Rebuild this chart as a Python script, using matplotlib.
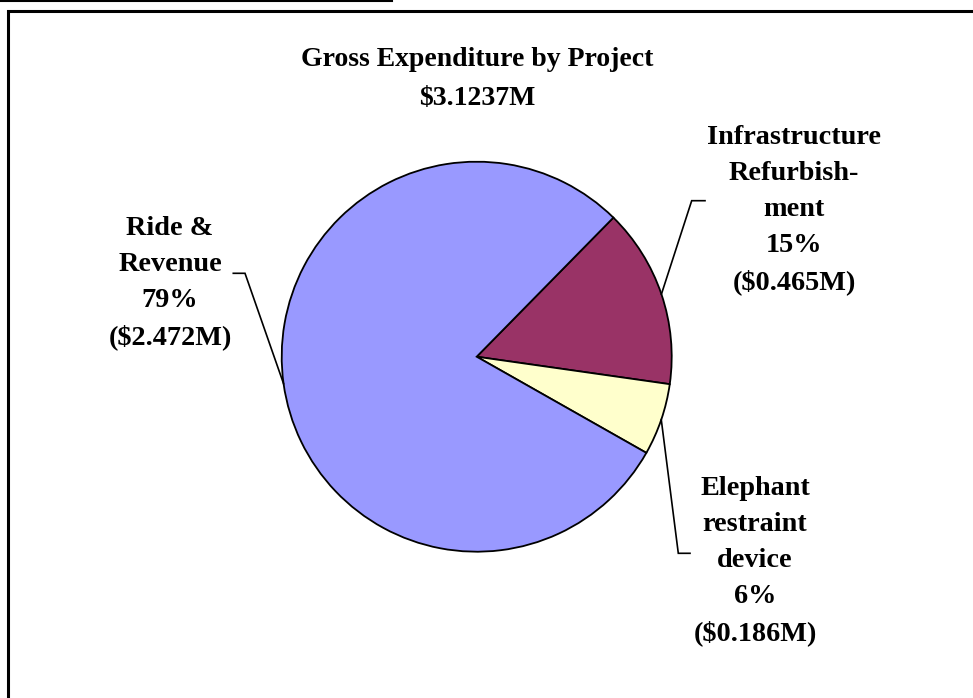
import matplotlib
matplotlib.use("Agg")
import matplotlib.pyplot as plt
import numpy as np

# Gross expenditure by project ($M)
projects = ["Infrastructure\nRefurbish-\nment", "Elephant\nrestraint\ndevice", "Ride &\nRevenue"]
spend_m = [0.465, 0.186, 2.472]
colors = ["#993366", "#FFFFCC", "#9999FF"]
total_label = "$3.1237M"
title = "Gross Expenditure by Project"

W, H = 973, 698
plt.rcParams["font.family"] = ["Liberation Serif", "DejaVu Serif"]

fig = plt.figure(figsize=(W / 100, H / 100), dpi=100)
ax = fig.add_axes([0, 0, 1, 1])

cx, cy, r = 476.7, H - 356.7, 195
wedges, _ = ax.pie(spend_m, colors=colors, startangle=45.5, counterclock=False,
                   center=(cx, cy), radius=r,
                   wedgeprops=dict(edgecolor="black", linewidth=1.3))
ax.set_xlim(0, W)
ax.set_ylim(0, H)
ax.set_aspect("equal")
ax.axis("off")

total = sum(spend_m)
# label anchor (text centre) and leader-line elbow for each slice, in pixels
label_pos = [(794, H - 210), (755, H - 561), (170, H - 283)]
elbows = [((691.7, H - 200.7), (705, H - 200.7)),
          ((678.3, H - 553.3), (690, H - 553.3)),
          ((245, H - 273.3), (233.3, H - 273.3))]

for w, name, v, (lx, ly), (e1, e2) in zip(wedges, projects, spend_m, label_pos, elbows):
    pct = round(100 * v / total)
    txt = f"{name}\n{pct}%\n(${v:.3f}M)"
    ax.text(lx, ly, txt, ha="center", va="center", fontsize=20.3,
            fontweight="bold", linespacing=1.575)
    mid = np.deg2rad((w.theta1 + w.theta2) / 2)
    px, py = cx + r * np.cos(mid), cy + r * np.sin(mid)
    ax.plot([px, e1[0], e2[0]], [py, e1[1], e2[1]], color="black", lw=1.2,
            solid_joinstyle="miter")

ax.text(cx, H - 79, f"{title}\n{total_label}", ha="center", va="center",
        fontsize=20, fontweight="bold", linespacing=1.75)

# chart border and separator rule
ax.plot([8, 8, W + 5], [-5, H - 11, H - 11], color="black", lw=2.2,
        solid_joinstyle="miter", clip_on=False)
ax.plot([0, 392], [H - 1, H - 1], color="black", lw=1.5)

fig.savefig("out.png", dpi=100)
